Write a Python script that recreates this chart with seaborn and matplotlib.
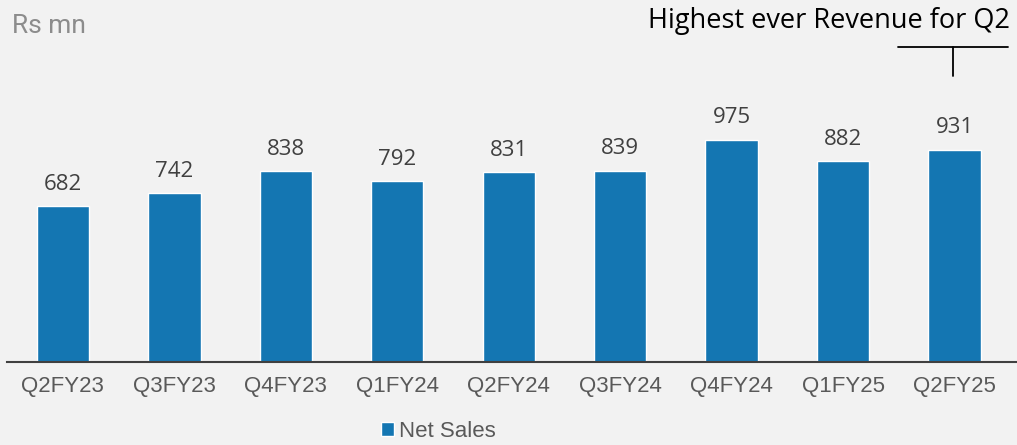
import pandas as pd
import matplotlib
matplotlib.use("Agg")
import matplotlib.pyplot as plt
import seaborn as sns

# quarterly net sales (Rs mn)
quarters = ["Q2FY23", "Q3FY23", "Q4FY23", "Q1FY24", "Q2FY24", "Q3FY24", "Q4FY24", "Q1FY25", "Q2FY25"]
net_sales = [682, 742, 838, 792, 831, 839, 975, 882, 931]

bg = "#f2f2f2"
bar_color = "#1476b2"

sns.set_style("white")
plt.rcParams["font.family"] = ["Liberation Sans", "DejaVu Sans"]

df = pd.DataFrame({"quarter": quarters, "sales": net_sales, "series": "Net Sales"})

fig = plt.figure(figsize=(10.17, 4.45), dpi=100, facecolor=bg)
ax = fig.add_axes([0.007, 0.1865, 0.993, 0.80])
ax.set_facecolor(bg)

sns.barplot(data=df, x="quarter", y="sales", hue="series", palette=[bar_color],
            width=0.47, saturation=1, ax=ax)

# value labels on top of bars
for container in ax.containers:
    ax.bar_label(container, padding=8, fontsize=16, color="#404040", family="Open Sans")

ax.set_ylim(0, 1560)
ax.set_xlim(-0.5, 8.56)
ax.set_xlabel("")
ax.set_ylabel("")
ax.set_yticks([])
ax.tick_params(axis="x", length=0, labelsize=16, labelcolor="#595959", pad=10)
for side in ["top", "right", "left"]:
    ax.spines[side].set_visible(False)
ax.spines["bottom"].set_color("#404040")
ax.spines["bottom"].set_linewidth(1.5)

# unit label
fig.text(12 / 1017, 1 - 33 / 445, "Rs mn", fontsize=19, color="#8c8c8c", family="Roboto", va="baseline")

# callout for the last quarter
fig.text(1010 / 1017, 1 - 28 / 445, "Highest ever Revenue for Q2", fontsize=19.5, color="black",
         family="Open Sans", ha="right", va="baseline")
fig.add_artist(plt.Line2D([898 / 1017, 1008 / 1017], [1 - 47 / 445, 1 - 47 / 445], color="black", lw=1.3))
fig.add_artist(plt.Line2D([953 / 1017, 953 / 1017], [1 - 47 / 445, 1 - 76 / 445], color="black", lw=1.3))

# legend below the chart
ax.legend(loc="upper center", bbox_to_anchor=(0.427, -0.127), frameon=False, fontsize=16,
          handlelength=0.6, handleheight=0.6, handletextpad=0.2, labelcolor="#595959",
          borderpad=0.1)

fig.savefig("out.png", dpi=100, facecolor=bg)
